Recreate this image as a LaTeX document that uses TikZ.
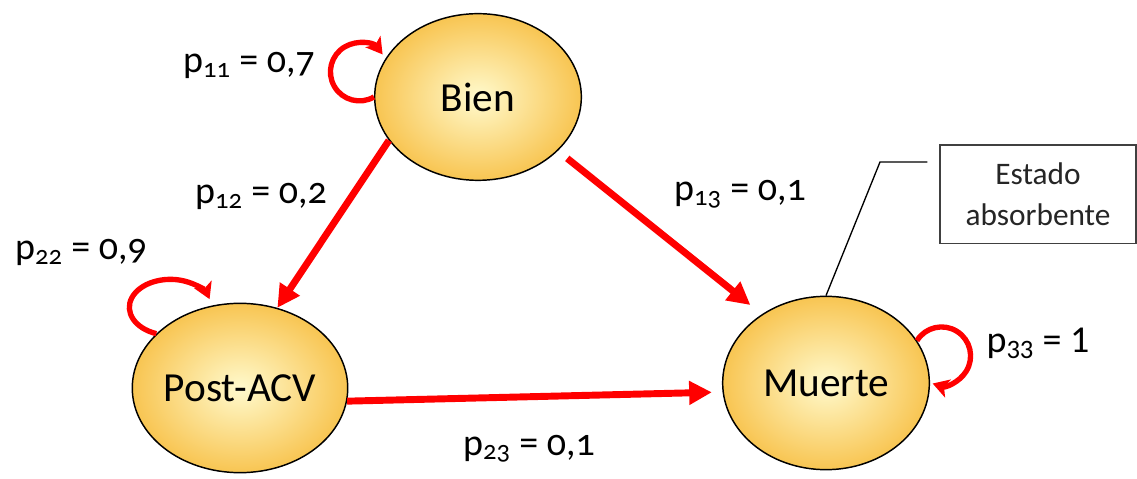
\documentclass[tikz,border=0pt]{standalone}
\usepackage{fontspec}
\setmainfont{Carlito}
\newfontfamily\probfont{Carlito}[Numbers=OldStyle]
\usetikzlibrary{shapes.geometric,arrows.meta}
\definecolor{statein}{HTML}{FFFACD}
\definecolor{stateout}{HTML}{F8C552}
\definecolor{moveline}{HTML}{FF0000}
\tikzset{
  state/.style={ellipse, draw, line width=1.1pt, inner sep=0pt,
                minimum width=155pt, minimum height=127pt, text depth=0pt,
                inner color=statein, outer color=stateout,
                font=\fontsize{31}{36}\selectfont},
  move/.style={color=moveline, line width=5.2pt,
               -{Triangle[length=17pt, width=17pt]}},
  selfmove/.style={color=moveline, line width=4pt,
                   -{Stealth[length=12pt, width=14pt, inset=3pt]}},
  prob/.style={anchor=base, inner sep=0pt,
               font=\probfont\fontsize{28.5}{34}\selectfont},
  notebox/.style={draw=black!75, line width=1pt, align=center,
                  minimum width=147pt, minimum height=74pt, text=black!85,
                  font=\fontsize{23.5}{30.75}\selectfont},
  callout/.style={draw=black, line width=1pt},
}

\begin{document}
\begin{tikzpicture}[x=0.75pt, y=0.75pt]
    \useasboundingbox (0,0) rectangle (1137,478);
    \node[state, minimum height=125pt] (bien) at (478, 381) {Bien};
    \node[state] (post) at (240, 90) {Post-ACV};
    \node[state, minimum height=130pt] (muerte) at (826, 95) {Muerte};
    \node[notebox] (absorb) at (1038, 283.5) {Estado\\absorbente};
    \coordinate (elbow) at (880, 316);

    \draw[move] (bien.206) -- (post.65);
    \draw[move, shorten <=9pt, shorten >=11pt] (bien.-34) -- (muerte.133);
    \draw[move, shorten >=8pt] (post.-7) -- (muerte.185);

    \draw[selfmove] (bien.180) arc[start angle=-60, end angle=-323, radius=21.75pt];
    \draw[selfmove] (post.147) arc[start angle=-110, end angle=-343, x radius=30.75pt, y radius=21pt];
    \draw[selfmove] (muerte.25) arc[start angle=148, end angle=-108, radius=21.75pt];

    \draw[callout, shorten >=9pt] (muerte.north) -- (elbow) -- (elbow -| absorb.west);

    \node[prob] (p11) at (249, 405) {p\textsubscript{11} = 0,7};
    \node[prob] (p12) at (261, 274) {p\textsubscript{12} = 0,2};
    \node[prob] (p13) at (740, 277) {p\textsubscript{13} = 0,1};
    \node[prob] (p22) at (81, 218) {p\textsubscript{22} = 0,9};
    \node[prob] (p23) at (529, 23) {p\textsubscript{23} = 0,1};
    \node[prob, font=\fontsize{28.5}{34}\selectfont] (p33) at (1038, 125) {p\textsubscript{33} = 1};
  \end{tikzpicture}
\end{document}
